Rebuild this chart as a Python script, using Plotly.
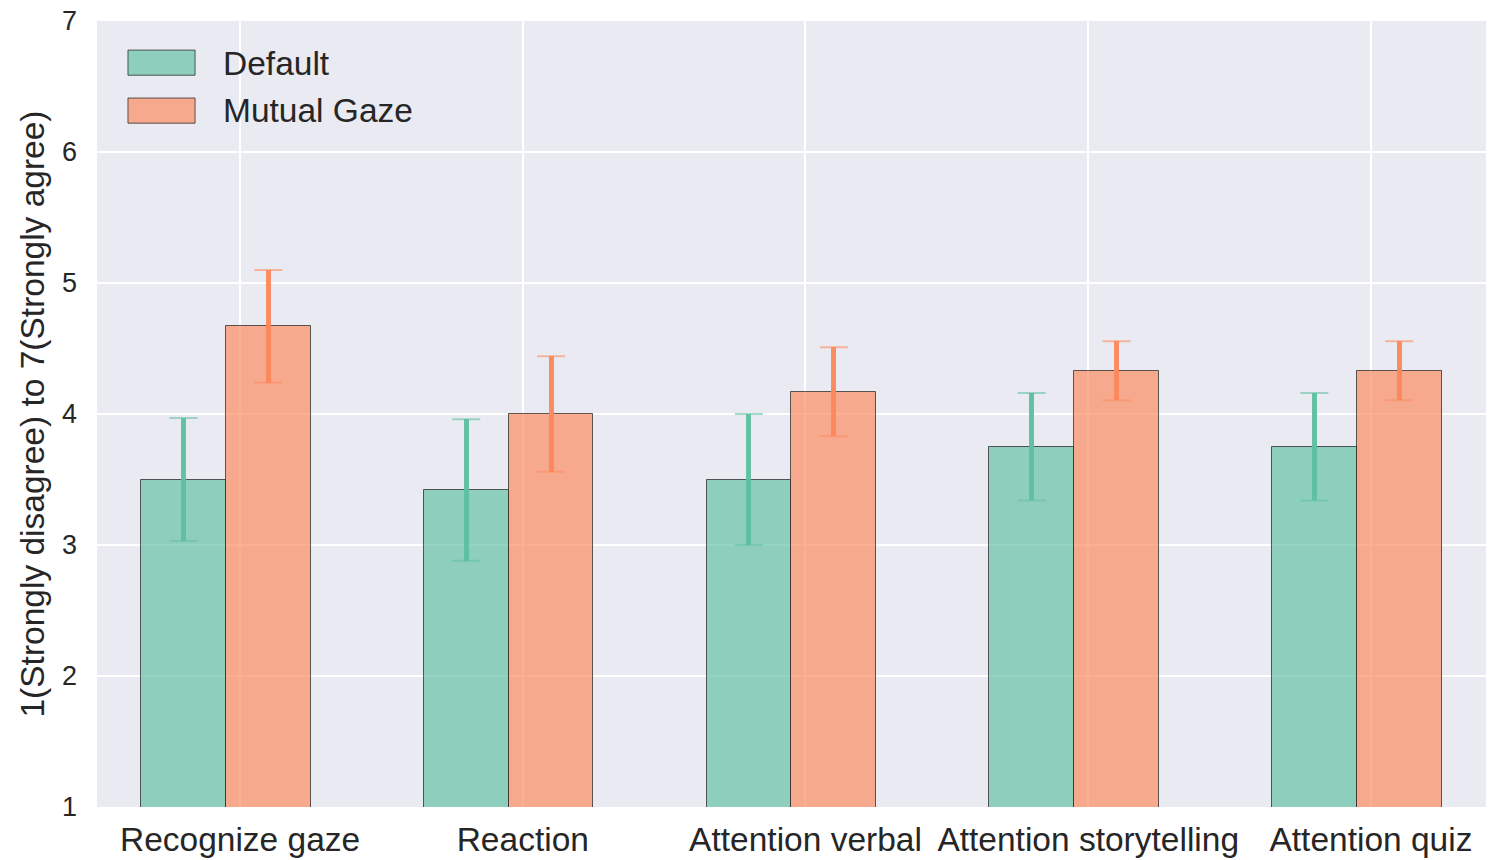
import plotly.graph_objects as go

# Questionnaire items and mean ratings (7-point Likert scale)
categories = ["Recognize gaze", "Reaction", "Attention verbal",
              "Attention storytelling", "Attention quiz"]
default_mean = [3.5, 3.42, 3.5, 3.75, 3.75]
default_err = [0.47, 0.54, 0.5, 0.41, 0.41]
mutual_mean = [4.67, 4.0, 4.17, 4.33, 4.33]
mutual_err = [0.43, 0.44, 0.34, 0.225, 0.225]
y_ticks = [1, 2, 3, 4, 5, 6, 7]

series_names = ["Default", "Mutual Gaze"]
fill_colors = ["rgba(102,194,165,0.7)", "rgba(252,141,98,0.7)"]
stem_colors = ["rgba(94,192,160,0.95)", "rgba(252,136,92,0.95)"]
cap_colors = ["rgba(102,194,165,0.6)", "rgba(252,141,98,0.6)"]
edge_color = "rgba(40,40,40,0.75)"
text_color = "#262626"
font_family = "Liberation Sans, Arial, sans-serif"

BAR_W = 0.3
fig = go.Figure()
for name, means, errs, fc, sc, cc, off in zip(
        series_names, [default_mean, mutual_mean], [default_err, mutual_err],
        fill_colors, stem_colors, cap_colors, [-0.35, -0.05]):
    # filled bars with thin, light caps
    fig.add_trace(go.Bar(
        x=categories, y=means, name=name,
        width=BAR_W, offset=off,
        marker=dict(color=fc, line=dict(color=edge_color, width=1)),
        error_y=dict(type="data", array=errs, visible=True,
                     color=cc, thickness=2, width=14),
        showlegend=False,
    ))
    # heavier error-bar stems on top, without caps
    fig.add_trace(go.Bar(
        x=categories, y=means, name=name,
        width=BAR_W, offset=off,
        marker=dict(color="rgba(0,0,0,0)", line=dict(width=0)),
        error_y=dict(type="data", array=errs, visible=True,
                     color=sc, thickness=5, width=0),
        showlegend=False, hoverinfo="skip",
    ))

# Legend drawn as boxed swatches with labels in the upper-left corner
legend_rows = [(0.963, 0.931, 0.9465), (0.902, 0.870, 0.8855)]
shapes = []
annotations = []
for (y0, y1, yt), name, fc in zip(legend_rows, series_names, fill_colors):
    shapes.append(dict(type="rect", xref="paper", yref="paper",
                       x0=0.0223, x1=0.0706, y0=y1, y1=y0,
                       fillcolor=fc, line=dict(color=edge_color, width=1)))
    annotations.append(dict(xref="paper", yref="paper", x=0.0893, y=yt,
                            text=name, showarrow=False, xanchor="left",
                            yanchor="middle",
                            font=dict(size=33.5, color=text_color,
                                      family=font_family)))

fig.update_layout(
    width=1497, height=860,
    margin=dict(l=97, r=11, t=21, b=53),
    paper_bgcolor="white",
    plot_bgcolor="#eaeaf2",
    font=dict(family=font_family, color=text_color),
    shapes=shapes,
    annotations=annotations,
    bargap=0, barmode="overlay",
)
fig.update_xaxes(
    range=[-0.506, 4.407], automargin=False,
    showgrid=True, gridcolor="white", gridwidth=2,
    tickfont=dict(size=33.5, color=text_color),
    ticklabelstandoff=9,
    ticks="", zeroline=False, showline=False,
)
fig.update_yaxes(
    range=[1, 7], tickvals=y_ticks, automargin=False,
    showgrid=True, gridcolor="white", gridwidth=2,
    tickfont=dict(size=27, color=text_color),
    ticklabelstandoff=19, zeroline=False, showline=False,
    title=dict(text="1(Strongly disagree) to 7(Strongly agree)",
               font=dict(size=33.5, color=text_color), standoff=7),
)

fig.write_html("out.html")
